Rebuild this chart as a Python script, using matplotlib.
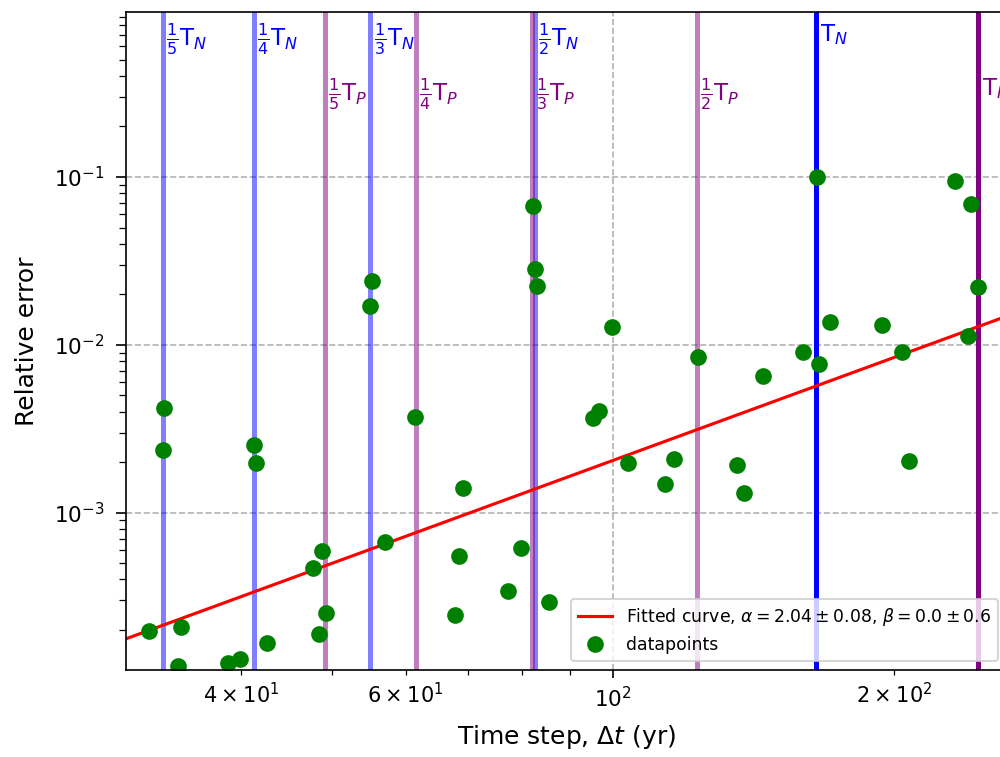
import math
import numpy as np
import matplotlib
matplotlib.use("Agg")
import matplotlib.pyplot as plt
from matplotlib.ticker import LogFormatterSciNotation

# Measured relative error of the integrator for each time step (years)
time_step = [31.89, 33.09, 33.01, 34.25, 34.50, 38.73, 39.90, 41.30, 41.50, 42.64,
             47.76, 48.83, 49.31, 48.47, 55.23, 54.95, 57.03, 61.41, 69.12, 68.44,
             67.77, 79.71, 77.20, 85.42, 82.11, 82.52, 82.92, 95.19, 96.62, 99.75,
             103.77, 113.64, 116.19, 123.29, 135.74, 138.10, 144.71, 159.71, 165.31, 166.13,
             170.70, 194.05, 203.85, 207.39, 232.24, 241.58, 245.78, 239.81]
rel_error = [1.97e-4, 4.20e-3, 2.36e-3, 1.22e-4, 2.08e-4, 1.27e-4, 1.34e-4, 2.53e-3, 1.98e-3, 1.67e-4,
             4.68e-4, 5.90e-4, 2.52e-4, 1.89e-4, 2.40e-2, 1.70e-2, 6.68e-4, 3.71e-3, 1.40e-3, 5.51e-4,
             2.45e-4, 6.15e-4, 3.41e-4, 2.93e-4, 6.72e-2, 2.83e-2, 2.24e-2, 3.66e-3, 4.03e-3, 1.277e-2,
             1.98e-3, 1.48e-3, 2.09e-3, 8.46e-3, 1.92e-3, 1.31e-3, 6.52e-3, 9.06e-3, 1.0e-1, 7.69e-3,
             1.367e-2, 1.312e-2, 9.06e-3, 2.03e-3, 9.47e-2, 6.90e-2, 2.21e-2, 1.128e-2]

# Orbital periods (years) and the fractions marked on the plot
T_N = 165.0
T_P = 246.0
period_divisors = [5, 4, 3, 2, 1]

# Power-law fit  err = scale * dt**alpha
fit_alpha = 2.04
fit_scale = 1.705e-7
fit_label = r"Fitted curve, $\alpha=2.04\pm0.08$, $\beta=0.0\pm0.6$"

x_limits = (30.13, 263.9)
y_limits = (1.1558e-4, 0.9617)


class SpacedSciFormatter(LogFormatterSciNotation):
    """Scientific-notation log labels with a little more room around the times sign."""

    def _non_decade_format(self, sign_string, base, fx, usetex):
        b = float(base)
        exponent = math.floor(fx)
        coeff = b ** (fx - exponent)
        if abs(coeff - round(coeff)) < 1e-8:
            coeff = round(coeff)
        return r"$\mathdefault{%s%g\:\times\:%s^{%d}}$" % (sign_string, coeff, base, exponent)


fig = plt.figure(figsize=(1001 / 150, 757 / 150), dpi=150)
ax = fig.add_axes([0.12587, 0.11493, 0.88012, 0.86922])
ax.set_xscale("log")
ax.set_yscale("log")

ax.grid(True, which="major", linestyle="--", color="gray", alpha=0.6, linewidth=0.8)

xtrans = ax.get_xaxis_transform()
for period, sub, colour, ytxt in [(T_N, "N", "blue", 0.985), (T_P, "P", "purple", 0.902)]:
    for n in period_divisors:
        xv = period / n
        ax.axvline(xv, color=colour, alpha=0.5 if n > 1 else 1.0, linewidth=2.4)
        if n > 1:
            lab = r"$\frac{1}{%d}$T$_%s$" % (n, sub)
        else:
            lab = r"T$_%s$" % sub
        ax.text(xv * 1.008, ytxt, lab, color=colour, fontsize=11,
                ha="left", va="top", transform=xtrans)

xs = np.geomspace(x_limits[0], x_limits[1], 200)
ax.plot(xs, fit_scale * xs ** fit_alpha, color="red", linewidth=1.5, label=fit_label)
ax.plot(time_step, rel_error, "o", color="green", markersize=7, label="datapoints")

ax.set_xlim(*x_limits)
ax.set_ylim(*y_limits)
ax.xaxis.set_minor_formatter(SpacedSciFormatter(labelOnlyBase=False, minor_thresholds=(1, 0.4)))
ax.set_xlabel(r"Time step, $\Delta t$ (yr)", fontsize=12, labelpad=6)
ax.set_ylabel("Relative error", fontsize=12, labelpad=7)
ax.tick_params(labelsize=10.3)
ax.tick_params(axis="y", which="major", length=4.8, pad=5.5)
ax.tick_params(axis="y", which="minor", length=3.2)
ax.tick_params(axis="x", which="major", length=4.0)
ax.tick_params(axis="x", which="minor", length=2.6)

ax.legend(loc="lower right", fontsize=8.3)

fig.savefig("out.png", dpi=150)
